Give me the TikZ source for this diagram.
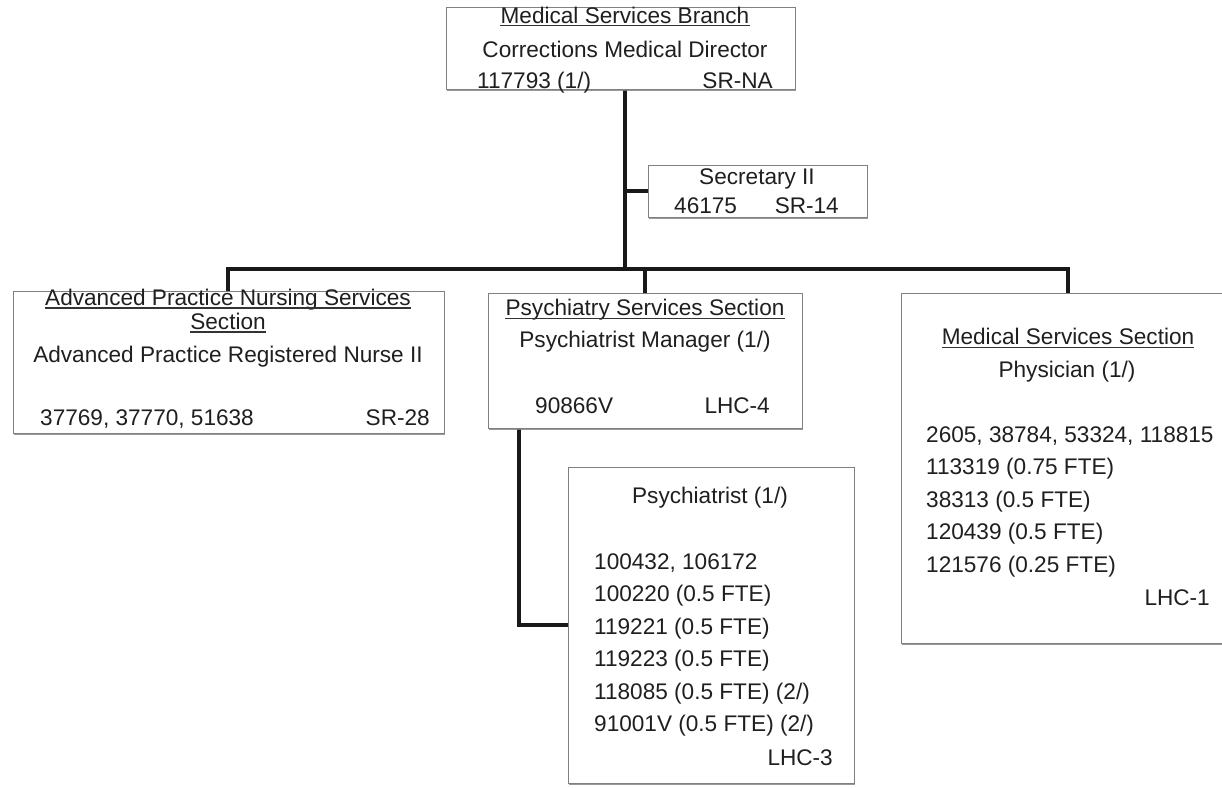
\documentclass[tikz,border=0pt]{standalone}
\usepackage{fontspec}
\setmainfont{Liberation Sans}
\usetikzlibrary{shadows}
\pgfdeclarelayer{bg}
\pgfsetlayers{bg,main}
\begin{document}
\begin{tikzpicture}[x=1pt,y=-1pt,
  box/.style={draw=black!50, fill=white, line width=0.9pt, inner sep=0pt,
    drop shadow={shadow xshift=1.2pt, shadow yshift=-2.4pt, fill=black!50, opacity=0.8}},
  conn/.style={line width=3.6pt, draw=black!90, line cap=rect, line join=miter},
  txt/.style={inner sep=0pt, text=black!88, font=\fontsize{22.6}{26}\selectfont},
  uline/.style={line width=1.1pt, draw=black!80}]
\useasboundingbox (0,0) rectangle (1222,787);
\clip (0,0) rectangle (1222,787);

% boxes
\node[box, minimum width=349pt, minimum height=82pt] (top) at (620.5,48) {};
\node[box, minimum width=219pt, minimum height=52pt] (sec) at (757.5,191) {};
\node[box, minimum width=431pt, minimum height=142pt] (apn) at (228.5,362) {};
\node[box, minimum width=314pt, minimum height=135pt] (psy) at (645,360.5) {};
\node[box, minimum width=286pt, minimum height=316pt] (psyt) at (711,625) {};
\node[box, minimum width=334pt, minimum height=350pt] (med) at (1068,468) {};

% junction coordinates
\coordinate (j) at (625,269);
\coordinate (k) at (519,627);

% connectors (behind the boxes)
\begin{pgfonlayer}{bg}
\fill[white] (0,0) rectangle (1222,787);
\draw[conn] (j |- top.south) -- (j);
\draw[conn] (j |- sec.west) -- (sec.west);
\draw[conn] (apn.north -| 228,0) |- (j) -| (med.north -| 1068,0);
\draw[conn] (psy.north) -- (psy.north |- j);
\draw[conn] (k |- psy.south) |- (psyt.west);
\end{pgfonlayer}

% top box text
\node[txt, anchor=base] (t1) at (625,23) {Medical Services Branch};
\draw[uline] ([yshift=-2.5pt]t1.base west) -- ([yshift=-2.5pt]t1.base east);
\node[txt, anchor=base] (t2) at (625,57) {Corrections Medical Director};
\node[txt, anchor=base west] (t3) at (477,88) {117793 (1/)};
\node[txt, anchor=base east] (t4) at (773,88) {SR-NA};

% secretary
\node[txt, anchor=base] (s1) at (757,184) {Secretary II};
\node[txt, anchor=base west] (s2) at (674,213) {46175};
\node[txt, anchor=base east] (s3) at (839,213) {SR-14};

% advanced practice nursing
\node[txt, anchor=base] (a1) at (228,305) {Advanced Practice Nursing Services};
\draw[uline] ([yshift=-3pt]a1.base west) -- ([yshift=-3pt]a1.base east);
\node[txt, anchor=base] (a2) at (228,329) {Section};
\draw[uline] ([yshift=-3pt]a2.base west) -- ([yshift=-3pt]a2.base east);
\node[txt, anchor=base] (a3) at (228,362) {Advanced Practice Registered Nurse II};
\node[txt, anchor=base west] (a4) at (40,425) {37769, 37770, 51638};
\node[txt, anchor=base east] (a5) at (430,425) {SR-28};

% psychiatry services
\node[txt, anchor=base] (p1) at (645,315) {Psychiatry Services Section};
\draw[uline] ([yshift=-3.5pt]p1.base west) -- ([yshift=-3.5pt]p1.base east);
\node[txt, anchor=base] (p2) at (645,347) {Psychiatrist Manager (1/)};
\node[txt, anchor=base west] (p3) at (535,413) {90866V};
\node[txt, anchor=base east] (p4) at (770,413) {LHC-4};

% psychiatrist
\node[txt, anchor=base] (q0) at (710,503) {Psychiatrist (1/)};
\node[txt, anchor=base west] (q1) at (594,569) {100432, 106172};
\node[txt, anchor=base west] (q2) at (594,601.5) {100220 (0.5 FTE)};
\node[txt, anchor=base west] (q3) at (594,634) {119221 (0.5 FTE)};
\node[txt, anchor=base west] (q4) at (594,666.5) {119223 (0.5 FTE)};
\node[txt, anchor=base west] (q5) at (594,699) {118085 (0.5 FTE) (2/)};
\node[txt, anchor=base west] (q6) at (594,731.5) {91001V (0.5 FTE) (2/)};
\node[txt, anchor=base east] (q7) at (833,765) {LHC-3};

% medical services
\node[txt, anchor=base] (m0) at (1068,344) {Medical Services Section};
\draw[uline] ([yshift=-3.5pt]m0.base west) -- ([yshift=-3.5pt]m0.base east);
\node[txt, anchor=base] (m1) at (1067,377) {Physician (1/)};
\node[txt, anchor=base west] (m2) at (926,442) {2605, 38784, 53324, 118815};
\node[txt, anchor=base west] (m3) at (926,474.5) {113319 (0.75 FTE)};
\node[txt, anchor=base west] (m4) at (926,507) {38313 (0.5 FTE)};
\node[txt, anchor=base west] (m5) at (926,539.5) {120439 (0.5 FTE)};
\node[txt, anchor=base west] (m6) at (926,572) {121576 (0.25 FTE)};
\node[txt, anchor=base east] (m7) at (1210,605) {LHC-1};
\end{tikzpicture}
\end{document}
